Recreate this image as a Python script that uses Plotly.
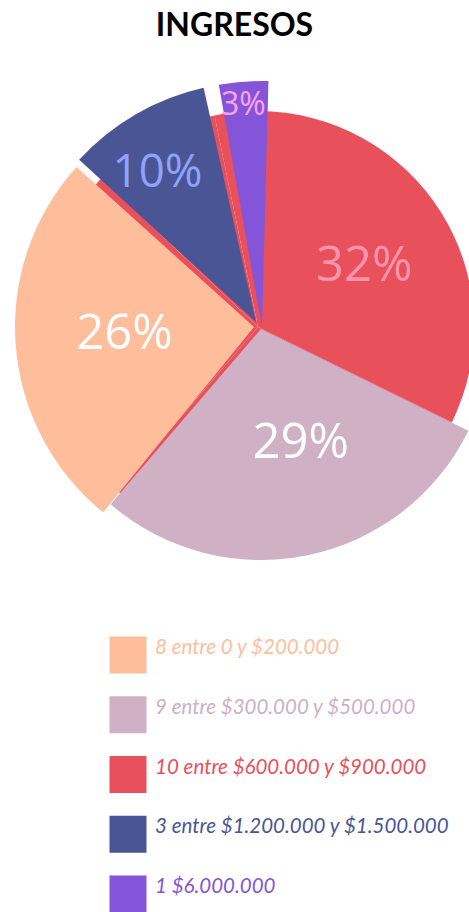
import plotly.graph_objects as go

# slices, clockwise from 12 o'clock
categories = [
    "10 entre $600.000 y $900.000",
    "9 entre $300.000 y $500.000",
    "8 entre 0 y $200.000",
    "3 entre $1.200.000 y $1.500.000",
    "1 $6.000.000",
]
counts = [10, 9, 8, 3, 1]
colors = ["#E8505B", "#CFB0C5", "#FFBE9B", "#4A5596", "#8455D8"]
label_colors = ["#FF94AA", "#FFFFFF", "#FFFFFF", "#8EA3FA", "#FFA0EE"]
legend_order = [
    "8 entre 0 y $200.000",
    "9 entre $300.000 y $500.000",
    "10 entre $600.000 y $900.000",
    "3 entre $1.200.000 y $1.500.000",
    "1 $6.000.000",
]
legend_text_colors = ["#FFBE9B", "#CDB0C6", "#E8505B", "#4A5596", "#8455D8"]

# drawing geometry (px) - each exploded slice is its own ring
W, H = 520, 912
shape_center = [(258, 327), (261, 329), (254, 327), (256, 322), (262, 327)]
shape_r = [216, 231, 239, 240, 246]
shape_rot = [0, 0, -1.5, -1, 1.5]
label_center = [(265.5, 324), (275, 313.5), (263.5, 323), (246, 329), (292, 329)]
label_r = [215, 229, 240, 237, 206]
label_rot = [0, 0, 0, 0, 1.5]
label_pos = ["inside", "inside", "inside", "inside", "outside"]
label_size = [49, 49, 49, 47, 32]

CLEAR = "rgba(0,0,0,0)"
n = len(counts)


def domain(center, r):
    cx, cy = center
    return dict(x=[(cx - r) / W, (cx + r) / W],
                y=[(H - cy - r) / H, (H - cy + r) / H])


def ring(cols, center, r, rot, text=None, pos="inside"):
    tmpl = [""] * n
    if text is not None:
        tmpl[text] = "%{percent:.0%}"
    font = dict(family="Open Sans", size=label_size, color=label_colors)
    return go.Pie(
        labels=categories, values=counts, sort=False,
        direction="clockwise", rotation=rot,
        marker=dict(colors=cols, line=dict(width=0)),
        texttemplate=tmpl, textposition=pos,
        insidetextorientation="horizontal",
        insidetextfont=font, outsidetextfont=font,
        domain=domain(center, r),
        hoverinfo="skip", showlegend=False,
    )


fig = go.Figure()
# red disc underneath, then every slice on its own ring
fig.add_trace(ring([colors[0]] * n, shape_center[0], shape_r[0], shape_rot[0]))
for i in range(1, n):
    cols = [colors[j] if j == i else CLEAR for j in range(n)]
    fig.add_trace(ring(cols, shape_center[i], shape_r[i], shape_rot[i]))
# percentage labels on transparent rings
for i in range(n):
    fig.add_trace(ring([CLEAR] * n, label_center[i], label_r[i], label_rot[i],
                       text=i, pos=label_pos[i]))

# legend drawn as scatters on hidden axes
leg_colors = [colors[categories.index(c)] for c in legend_order]
fig.add_trace(go.Scatter(
    x=[0] * n, y=legend_order, mode="markers", yaxis="y2",
    marker=dict(symbol="square", size=37, color=leg_colors),
    cliponaxis=False, hoverinfo="skip", showlegend=False,
))
fig.add_trace(go.Scatter(
    x=[27] * n, y=legend_order, mode="text", text=legend_order,
    textposition="middle right",
    textfont=dict(family="Lato", size=20.5, color=legend_text_colors, style="italic"),
    cliponaxis=False, hoverinfo="skip", showlegend=False,
))

fig.update_layout(
    width=W, height=H,
    margin=dict(l=0, r=0, t=0, b=0),
    paper_bgcolor="white", plot_bgcolor="rgba(0,0,0,0)",
    xaxis=dict(visible=False, range=[-128, W - 128], domain=[0, 1], fixedrange=True),
    yaxis=dict(visible=False, range=[4.25, -0.25], type="category",
               domain=[(H - 903) / H, (H - 634) / H], fixedrange=True),
    yaxis2=dict(visible=False, range=[4.25, -0.25], type="category", anchor="x",
                domain=[(H - 909) / H, (H - 640) / H], fixedrange=True),
    title=dict(text="<b>INGRESOS</b>", x=234.5 / W, y=1 - 25 / H,
               xanchor="center", yanchor="middle",
               font=dict(family="Lato", size=32, color="black")),
)

fig.write_html(
    "out.html",
    config={"displayModeBar": False},
    post_script="document.body.style.margin='0';"
                "document.body.style.overflow='hidden';"
                "document.documentElement.style.overflow='hidden';",
)
